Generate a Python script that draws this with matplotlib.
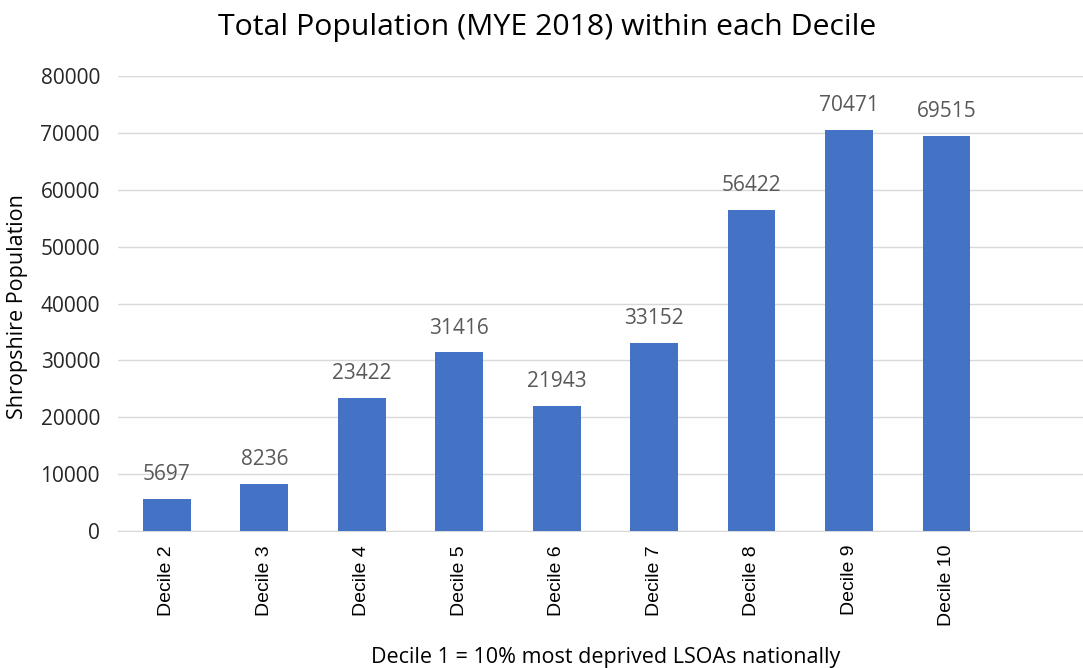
import matplotlib.pyplot as plt

# Shropshire population (MYE 2018) by IMD decile
deciles = ["Decile 2", "Decile 3", "Decile 4", "Decile 5", "Decile 6",
           "Decile 7", "Decile 8", "Decile 9", "Decile 10"]
population = [5697, 8236, 23422, 31416, 21943, 33152, 56422, 70471, 69515]
y_ticks = [0, 10000, 20000, 30000, 40000, 50000, 60000, 70000, 80000]

plt.rcParams['font.family'] = ['Open Sans', 'DejaVu Sans']

fig = plt.figure(figsize=(10.83, 6.68), dpi=100)
ax = fig.add_axes([0.109, 0.205, 0.891, 0.681])

x = list(range(len(deciles)))
bars = ax.bar(x, population, width=0.49, color='#4472C4', zorder=3)

# value labels above each bar
for rect, val in zip(bars, population):
    ax.annotate(str(val), (rect.get_x() + rect.get_width() / 2, val),
                xytext=(0, 10), textcoords='offset points',
                ha='center', va='bottom', fontsize=15, color='#595959')

ax.set_xlim(-0.5, 9.4)
ax.set_ylim(0, 80000)
ax.set_yticks(y_ticks)
ax.set_yticklabels([str(t) for t in y_ticks], fontsize=15, color='#262626')
ax.set_xticks(x)
ax.set_xticklabels(deciles, rotation=90, fontsize=14, color='black',
                   family=['Liberation Sans', 'DejaVu Sans'])
ax.tick_params(axis='both', length=0)
ax.tick_params(axis='y', pad=13)
ax.tick_params(axis='x', pad=10)

ax.grid(axis='y', color='#d9d9d9', linewidth=1, zorder=0)
for side in ['top', 'right', 'left']:
    ax.spines[side].set_visible(False)
ax.spines['bottom'].set_color('#d9d9d9')

fig.text(18 / 1083, 1 - 307 / 668, "Shropshire Population", rotation=90,
         ha='center', va='center', fontsize=15.5, color='black')
fig.text(606 / 1083, 1 - 657 / 668, "Decile 1 = 10% most deprived LSOAs nationally",
         ha='center', va='center', fontsize=15.5, color='black')
fig.text(547 / 1083, 1 - 27 / 668, "Total Population (MYE 2018) within each Decile",
         ha='center', va='center', fontsize=21.8, color='black')

fig.savefig("out.png", dpi=100)
